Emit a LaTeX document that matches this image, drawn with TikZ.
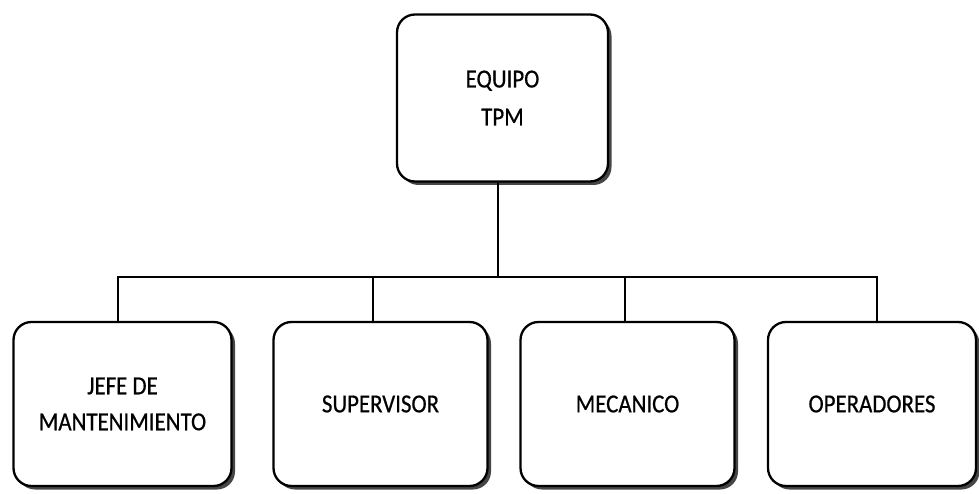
\documentclass[tikz,border=0pt]{standalone}
\usepackage{fontspec}
\setmainfont{Carlito}[FakeStretch=0.88, FakeBold=0.6]
\usetikzlibrary{shadows}
\tikzset{
  orgbox/.style={draw=black, line width=2.3pt, rounded corners=18pt, fill=white,
    align=center, inner sep=0pt,
    font=\fontsize{26}{36}\selectfont,
    drop shadow={shadow xshift=3.5pt, shadow yshift=-3.5pt, fill=black!85, opacity=0.85}},
  link/.style={draw=black, line width=2.6pt}
}
\begin{document}
\begin{tikzpicture}[x=1pt, y=-1pt]
  \useasboundingbox (0,0) rectangle (979,494);
  % top of the chart
  \node[orgbox, minimum width=211pt, minimum height=167pt] (top) at (502.5,98) {EQUIPO\\[2pt]TPM};
  % second level
  \node[orgbox, minimum width=218pt, minimum height=164pt] (b1) at (122.5,404) {JEFE DE\\MANTENIMIENTO};
  \node[orgbox, minimum width=214pt, minimum height=164pt] (b2) at (380.5,404) {SUPERVISOR};
  \node[orgbox, minimum width=214pt, minimum height=164pt] (b3) at (627.5,404) {MECANICO};
  \node[orgbox, minimum width=208pt, minimum height=164pt] (b4) at (872,404) {OPERADORES};
  % bus junctions
  \coordinate (j0) at (498,277);
  \coordinate (j1) at (118,277);
  \coordinate (j2) at (373,277);
  \coordinate (j3) at (625,277);
  \coordinate (j4) at (877,277);
  \draw[link] (top.south -| j0) -- (j0);
  \draw[link, line cap=rect] (j1) -- (j4);
  \draw[link] (j1) -- (b1.north -| j1);
  \draw[link] (j2) -- (b2.north -| j2);
  \draw[link] (j3) -- (b3.north -| j3);
  \draw[link] (j4) -- (b4.north -| j4);
\end{tikzpicture}
\end{document}
